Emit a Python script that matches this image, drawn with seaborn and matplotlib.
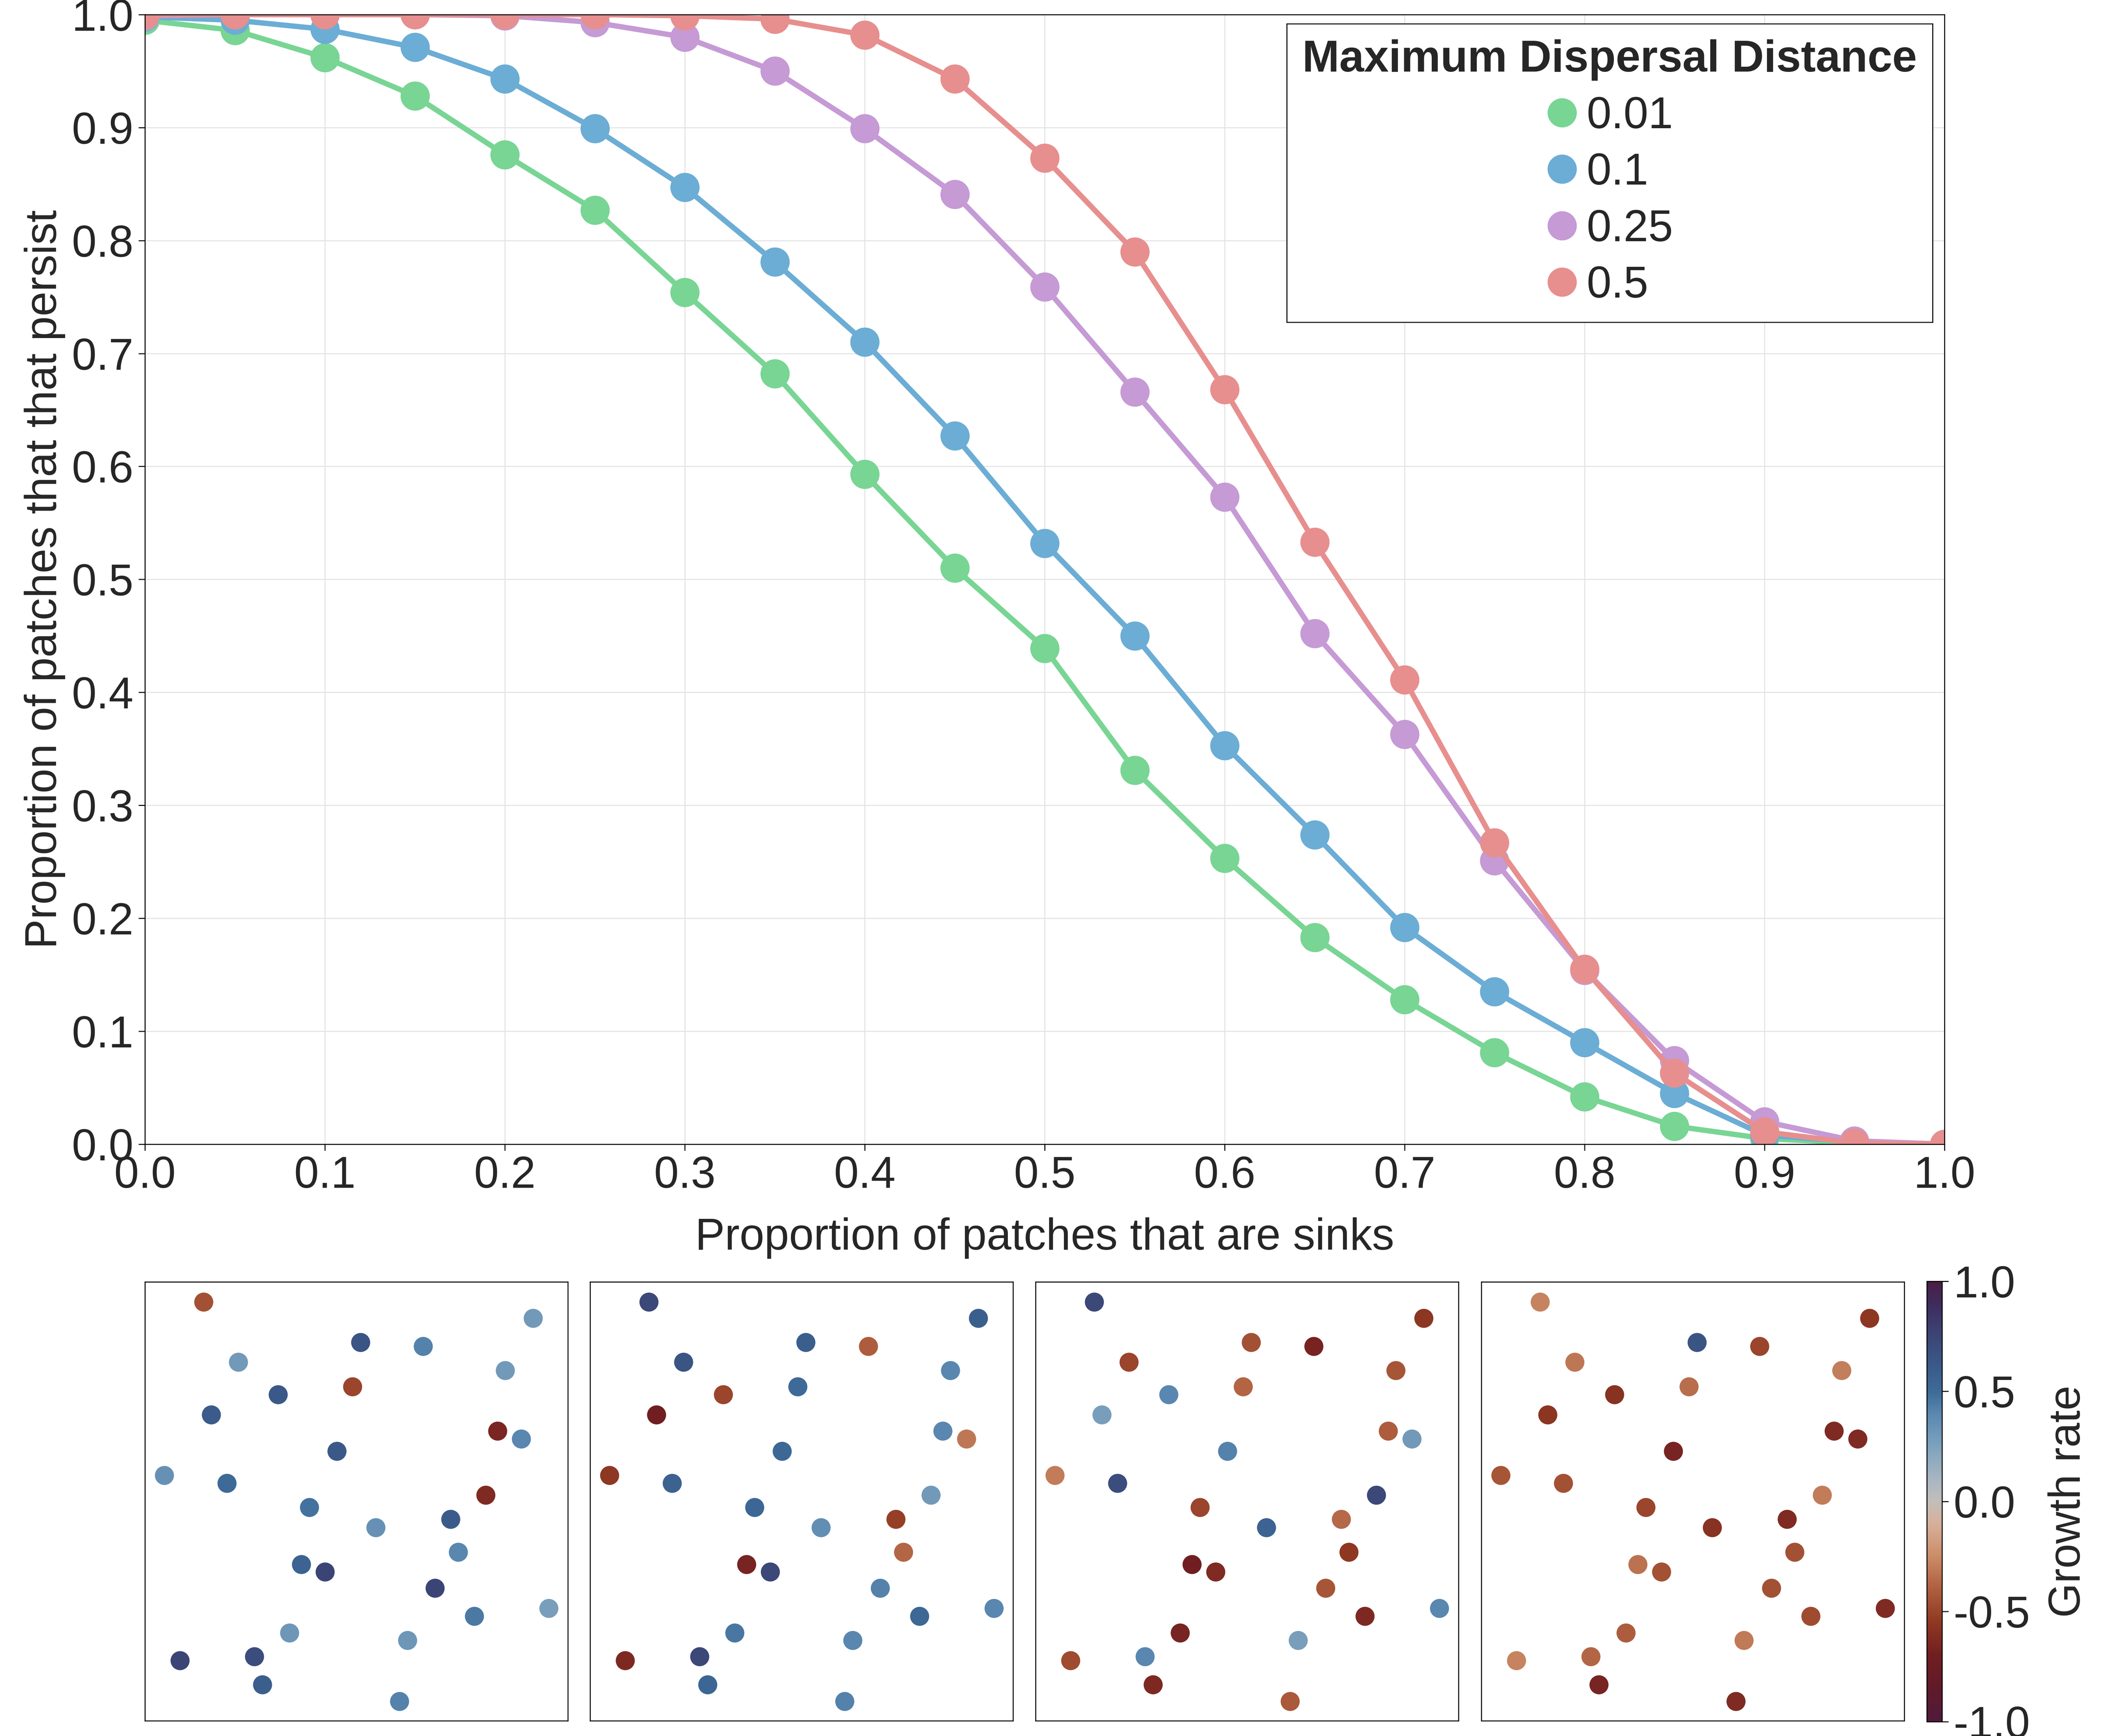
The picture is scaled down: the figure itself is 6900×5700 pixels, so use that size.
import numpy as np
import pandas as pd
import seaborn as sns
import matplotlib.pyplot as plt
from matplotlib.colors import LinearSegmentedColormap, Normalize
from matplotlib.lines import Line2D
import matplotlib.cm as cm

# persistence curves, one per maximum dispersal distance
sink_prop = [0.0, 0.05, 0.1, 0.15, 0.2, 0.25, 0.3, 0.35, 0.4, 0.45, 0.5,
             0.55, 0.6, 0.65, 0.7, 0.75, 0.8, 0.85, 0.9, 0.95, 1.0]
persist_001 = [0.995, 0.986, 0.962, 0.928, 0.876, 0.827, 0.754, 0.682, 0.593, 0.510, 0.439,
               0.331, 0.253, 0.183, 0.128, 0.081, 0.042, 0.016, 0.005, 0.001, 0.0]
persist_01 = [0.998, 0.995, 0.987, 0.971, 0.943, 0.899, 0.847, 0.781, 0.710, 0.627, 0.532,
              0.450, 0.353, 0.274, 0.192, 0.135, 0.090, 0.045, 0.008, 0.002, 0.0]
persist_025 = [0.999, 1.0, 1.0, 1.0, 0.999, 0.993, 0.980, 0.950, 0.899, 0.841, 0.759,
               0.666, 0.573, 0.452, 0.363, 0.251, 0.154, 0.074, 0.020, 0.003, 0.0]
persist_05 = [1.0, 1.0, 1.0, 1.0, 1.0, 1.0, 0.999, 0.996, 0.982, 0.943, 0.873,
              0.790, 0.668, 0.533, 0.411, 0.267, 0.155, 0.063, 0.011, 0.001, 0.0]
dispersal_labels = ['0.01', '0.1', '0.25', '0.5']
line_colors = ['#78d594', '#6badd5', '#c59ad5', '#e78f8e']

# example landscapes: patch positions (shared) and growth rates per landscape
patch_x = [0.139, 0.918, 0.510, 0.658, 0.221, 0.852, 0.315, 0.491, 0.157, 0.834,
           0.890, 0.454, 0.046, 0.194, 0.389, 0.806, 0.546, 0.723, 0.741, 0.370,
           0.426, 0.686, 0.955, 0.779, 0.342, 0.621, 0.083, 0.259, 0.278, 0.602]
patch_y = [0.954, 0.917, 0.862, 0.853, 0.817, 0.798, 0.743, 0.761, 0.697, 0.660,
           0.642, 0.614, 0.559, 0.541, 0.486, 0.514, 0.440, 0.459, 0.384, 0.356,
           0.339, 0.302, 0.256, 0.238, 0.200, 0.183, 0.137, 0.146, 0.082, 0.044]
growth_1 = [-0.45, 0.30, 0.65, 0.42, 0.30, 0.30, 0.62, -0.50, 0.60, -0.65,
            0.40, 0.62, 0.35, 0.50, 0.47, -0.63, 0.35, 0.60, 0.40, 0.55,
            0.75, 0.75, 0.27, 0.45, 0.32, 0.32, 0.75, 0.70, 0.58, 0.42]
growth_2 = [0.73, 0.58, 0.58, -0.40, 0.65, 0.40, -0.50, 0.50, -0.70, 0.40,
            -0.32, 0.52, -0.55, 0.56, 0.53, 0.30, 0.36, -0.52, -0.37, -0.66,
            0.73, 0.42, 0.40, 0.52, 0.46, 0.40, -0.64, 0.73, 0.53, 0.42]
growth_3 = [0.73, -0.56, -0.45, -0.67, -0.50, -0.43, 0.40, -0.38, 0.27, -0.40,
            0.30, 0.42, -0.30, 0.70, -0.50, 0.73, 0.55, -0.36, -0.55, -0.70,
            -0.63, -0.43, 0.40, -0.64, -0.66, 0.27, -0.47, 0.40, -0.64, -0.42]
growth_4 = [-0.28, -0.56, 0.65, -0.50, -0.32, -0.29, -0.58, -0.35, -0.57, -0.63,
            -0.63, -0.66, -0.43, -0.45, -0.50, -0.30, -0.58, -0.63, -0.45, -0.33,
            -0.45, -0.45, -0.63, -0.47, -0.40, -0.31, -0.28, -0.37, -0.66, -0.63]
growth_sets = [growth_1, growth_2, growth_3, growth_4]

df = pd.DataFrame({
    'sinks': sink_prop * 4,
    'persist': persist_001 + persist_01 + persist_025 + persist_05,
    'dist': sum([[lab] * len(sink_prop) for lab in dispersal_labels], []),
})

# cyclic diverging colormap (brown - grey - blue, purple at both ends)
cmap = LinearSegmentedColormap.from_list('growth', [
    (0.000, '#511a3b'), (0.075, '#601a2a'), (0.150, '#711e22'), (0.225, '#8f3822'),
    (0.300, '#ae5e3e'), (0.375, '#cc8c68'), (0.450, '#d6b09a'), (0.500, '#c2bebb'),
    (0.550, '#a8b6c2'), (0.625, '#7ea2bd'), (0.700, '#5a88b0'), (0.750, '#3d6b98'),
    (0.825, '#3a5585'), (0.900, '#3c3e6e'), (0.950, '#3e2c5c'), (1.000, '#4a1e45')])

sns.set_theme(style='whitegrid')
plt.rcParams['font.family'] = ['Liberation Sans', 'DejaVu Sans']
plt.rcParams['axes.unicode_minus'] = False
FS = 35

fig = plt.figure(figsize=(23, 19), dpi=300)
ax = fig.add_axes([0.069, 0.3409, 0.8565, 0.6507])

sns.lineplot(data=df, x='sinks', y='persist', hue='dist', hue_order=dispersal_labels,
             palette=line_colors, marker='o', markersize=23, markeredgewidth=0,
             linewidth=4.2, errorbar=None, legend=False, ax=ax)

ax.set_xlim(0, 1)
ax.set_ylim(0, 1)
ticks = np.round(np.arange(0, 1.01, 0.1), 1)
ax.set_xticks(ticks)
ax.set_yticks(ticks)
ax.set_xticklabels([f'{t:.1f}' for t in ticks])
ax.set_yticklabels([f'{t:.1f}' for t in ticks])
ax.grid(True, color='#e3e3e3', linewidth=0.8)
for s in ax.spines.values():
    s.set_visible(True)
    s.set_color('black')
    s.set_linewidth(0.8)
ax.tick_params(direction='out', length=5, width=0.8, color='black',
               labelsize=FS, pad=4, bottom=True, left=True)
ax.set_xlabel('Proportion of patches that are sinks', fontsize=FS, labelpad=16)
ax.set_ylabel('Proportion of patches that that persist', fontsize=FS, labelpad=5)

handles = [Line2D([], [], marker='o', linestyle='', markersize=23,
                  markerfacecolor=c, markeredgewidth=0) for c in line_colors]
leg = ax.legend(handles, dispersal_labels, title='Maximum Dispersal Distance',
                loc='upper right', bbox_to_anchor=(0.9934, 0.9919), borderaxespad=0,
                fontsize=FS, title_fontproperties={'weight': 'bold', 'size': FS},
                frameon=True, fancybox=False, framealpha=1, edgecolor='black',
                handlelength=0.7, handletextpad=0.2, labelspacing=0.34, borderpad=0.35)
leg.get_frame().set_linewidth(0.8)

# four example landscapes
panel_lefts = [0.0690, 0.2809, 0.4929, 0.7051]
for left, growth in zip(panel_lefts, growth_sets):
    axp = fig.add_axes([left, 0.00877, 0.2013, 0.2528])
    sns.scatterplot(x=patch_x, y=patch_y, hue=growth, palette=cmap, hue_norm=(-1, 1),
                    s=225, linewidth=0, legend=False, ax=axp)
    axp.set_xlim(0, 1)
    axp.set_ylim(0, 1)
    axp.set_xticks([])
    axp.set_yticks([])
    axp.grid(False)
    for s in axp.spines.values():
        s.set_visible(True)
        s.set_color('black')
        s.set_linewidth(0.8)

cax = fig.add_axes([0.9171, 0.00825, 0.00725, 0.2537])
sm = cm.ScalarMappable(norm=Normalize(-1, 1), cmap=cmap)
cb = fig.colorbar(sm, cax=cax)
cb.set_ticks([-1.0, -0.5, 0.0, 0.5, 1.0])
cb.set_ticklabels(['-1.0', '-0.5', '0.0', '0.5', '1.0'])
cb.outline.set_linewidth(0.8)
cb.outline.set_edgecolor('black')
cax.tick_params(direction='out', length=5, width=0.8, color='black', labelsize=FS, pad=4)
cb.set_label('Growth rate', fontsize=FS, labelpad=14)

fig.savefig('out.png', dpi=300)
